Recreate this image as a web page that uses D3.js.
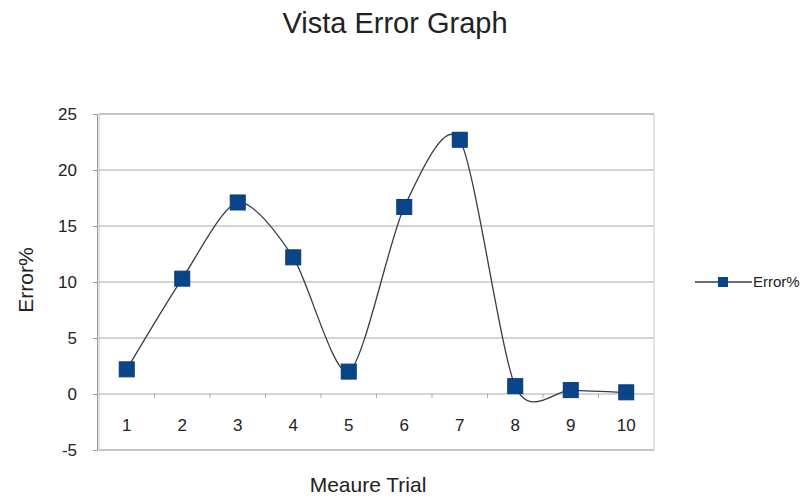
<!DOCTYPE html>
<html>
<head>
<meta charset="utf-8">
<script src="https://cdn.jsdelivr.net/npm/d3@7"></script>
<style>
  body { margin: 0; background: #fff; }
  text { font-family: "Liberation Sans", Arial, sans-serif; fill: #222; }
</style>
</head>
<body>
<div id="chart"></div>
<script>
var trials = ["1", "2", "3", "4", "5", "6", "7", "8", "9", "10"];
var errorPct = [2.2, 10.3, 17.1, 12.2, 2.0, 16.7, 22.7, 0.7, 0.35, 0.15];
var yTicks = [-5, 0, 5, 10, 15, 20, 25];

var width = 808, height = 499;
var margin = {top: 114, right: 154, bottom: 49, left: 99};

var svg = d3.select("#chart").append("svg")
    .attr("width", width)
    .attr("height", height);

var x = d3.scaleBand()
    .domain(trials)
    .range([margin.left, width - margin.right]);

var y = d3.scaleLinear()
    .domain([-5, 25])
    .range([height - margin.bottom, margin.top]);

// plot border
svg.append("rect")
    .attr("x", margin.left)
    .attr("y", margin.top)
    .attr("width", width - margin.left - margin.right)
    .attr("height", height - margin.top - margin.bottom)
    .attr("fill", "none")
    .attr("stroke", "#c8c8c8");

// gridlines
svg.append("g")
    .selectAll("line")
    .data(yTicks)
    .enter().append("line")
    .attr("x1", margin.left)
    .attr("x2", width - margin.right)
    .attr("y1", function(d) { return y(d); })
    .attr("y2", function(d) { return y(d); })
    .attr("stroke", "#aaaaaa")
    .attr("stroke-width", 1.2);

// y axis (plain hyphen for the minus, like the original)
var yAxis = svg.append("g")
    .attr("transform", "translate(" + (margin.left - 2) + ",0)")
    .call(d3.axisLeft(y).tickValues(yTicks).tickSize(4).tickPadding(16)
        .tickFormat(function(d) { return String(d); }));
yAxis.select(".domain").attr("stroke", "#999");
yAxis.selectAll(".tick line").attr("stroke", "#999");
yAxis.selectAll("text").style("font-size", "17px").attr("fill", "#222");

// x axis along zero line, labels below
var xAxis = svg.append("g")
    .attr("transform", "translate(0," + y(0) + ")")
    .call(d3.axisBottom(x).tickSize(0).tickPadding(25));
xAxis.select(".domain").remove();
xAxis.selectAll("text").style("font-size", "17px").attr("fill", "#222");

// small ticks between categories on zero line
svg.append("g")
    .selectAll("line")
    .data(trials.slice(1))
    .enter().append("line")
    .attr("x1", function(d) { return x(d); })
    .attr("x2", function(d) { return x(d); })
    .attr("y1", y(0))
    .attr("y2", y(0) + 4)
    .attr("stroke", "#aaa");

// smoothed line
var line = d3.line()
    .x(function(d, i) { return x(trials[i]) + x.bandwidth() / 2; })
    .y(function(d) { return y(d); })
    .curve(d3.curveCardinal.tension(0.2));

svg.append("path")
    .datum(errorPct)
    .attr("d", line)
    .attr("fill", "none")
    .attr("stroke", "#333d4c")
    .attr("stroke-width", 1.3);

// markers
var ms = 15;
svg.append("g")
    .selectAll("rect")
    .data(errorPct)
    .enter().append("rect")
    .attr("x", function(d, i) { return x(trials[i]) + x.bandwidth() / 2 - ms / 2; })
    .attr("y", function(d) { return y(d) - ms / 2; })
    .attr("width", ms)
    .attr("height", ms)
    .attr("fill", "#0b4589")
    .attr("stroke", "#0a3a74")
    .attr("stroke-width", 1);

// title
svg.append("text")
    .attr("x", 395)
    .attr("y", 33)
    .attr("text-anchor", "middle")
    .style("font-size", "29px")
    .text("Vista Error Graph");

// axis titles
svg.append("text")
    .attr("x", 368)
    .attr("y", 492)
    .attr("text-anchor", "middle")
    .style("font-size", "21px")
    .text("Meaure Trial");

svg.append("text")
    .attr("transform", "translate(33,280) rotate(-90)")
    .attr("text-anchor", "middle")
    .style("font-size", "21px")
    .text("Error%");

// legend
var ly = 282;
svg.append("line")
    .attr("x1", 695).attr("x2", 752)
    .attr("y1", ly).attr("y2", ly)
    .attr("stroke", "#333d4c")
    .attr("stroke-width", 1.3);
svg.append("rect")
    .attr("x", 718).attr("y", ly - 5)
    .attr("width", 10).attr("height", 10)
    .attr("fill", "#0b4589");
svg.append("text")
    .attr("x", 753)
    .attr("y", ly + 5)
    .style("font-size", "15px")
    .text("Error%");
</script>
</body>
</html>
